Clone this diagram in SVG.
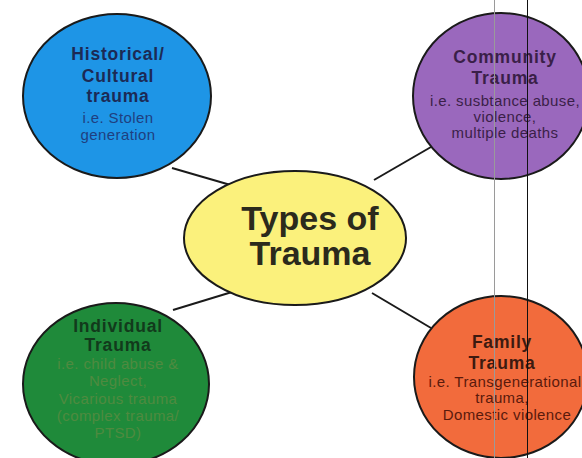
<svg xmlns="http://www.w3.org/2000/svg" width="582" height="458" viewBox="0 0 582 458">
<style>
.node{stroke:#1a1a1a;stroke-width:2}
.t{font-family:"Liberation Sans",Arial,sans-serif;text-anchor:middle}
.b{font-weight:bold;font-size:17.5px;letter-spacing:0.8px}
.s{font-size:15px;letter-spacing:0.4px}
.conn{stroke:#1a1a1a;stroke-width:2;fill:none}
</style>
<rect width="582" height="458" fill="#ffffff"/>
<g id="connectors">
<line class="conn" x1="172" y1="168" x2="234" y2="186"/>
<line class="conn" x1="374" y1="180" x2="431" y2="147"/>
<line class="conn" x1="173" y1="310" x2="232" y2="292"/>
<line class="conn" x1="372" y1="293" x2="431" y2="328"/>
</g>
<g id="historical">
<ellipse class="node" cx="117" cy="96" rx="94" ry="82" fill="#1e95e6"/>
<text class="t b" x="118" y="60" fill="#1c2a55">Historical/</text>
<text class="t b" x="118" y="82" fill="#1c2a55">Cultural</text>
<text class="t b" x="118" y="102" fill="#1c2a55">trauma</text>
<text class="t s" x="118" y="123" fill="#1f3f80">i.e. Stolen</text>
<text class="t s" x="118" y="140" fill="#1f3f80">generation</text>
</g>
<g id="community">
<ellipse class="node" cx="501" cy="96" rx="88" ry="83" fill="#9a68bd"/>
<text class="t b" x="505" y="63" fill="#3a1f48">Community</text>
<text class="t b" x="505" y="84" fill="#3a1f48">Trauma</text>
<text class="t s" x="505" y="106" fill="#3a1f48">i.e. susbtance abuse,</text>
<text class="t s" x="505" y="122" fill="#3a1f48">violence,</text>
<text class="t s" x="505" y="138" fill="#3a1f48">multiple deaths</text>
</g>
<g id="individual">
<ellipse class="node" cx="116" cy="384" rx="93" ry="81" fill="#1f8a3a"/>
<text class="t b" x="118" y="332" fill="#123a1c">Individual</text>
<text class="t b" x="118" y="351" fill="#123a1c">Trauma</text>
<text class="t s" x="118" y="369" fill="#4f8a40">i.e. child abuse &amp;</text>
<text class="t s" x="118" y="386" fill="#4f8a40">Neglect,</text>
<text class="t s" x="118" y="404" fill="#4f8a40">Vicarious trauma</text>
<text class="t s" x="118" y="421" fill="#4f8a40">(complex trauma/</text>
<text class="t s" x="118" y="438" fill="#4f8a40">PTSD)</text>
</g>
<g id="family">
<ellipse class="node" cx="501" cy="377" rx="87" ry="81" fill="#f26b3c"/>
<text class="t b" x="502" y="348" fill="#3d1a10">Family</text>
<text class="t b" x="502" y="369" fill="#3d1a10">Trauma</text>
<text class="t s" x="505" y="387" fill="#5a1a0c" letter-spacing="0.1">i.e. Transgenerational</text>
<text class="t s" x="502" y="403" fill="#5a1a0c">trauma,</text>
<text class="t s" x="507" y="420" fill="#5a1a0c">Domestic violence</text>
</g>
<g id="types">
<ellipse class="node" cx="295" cy="238" rx="111" ry="67" fill="#fbf17c"/>
<text class="t" x="310" y="230" font-size="34" font-weight="bold" fill="#2b2a1c">Types of</text>
<text class="t" x="310" y="265" font-size="34" font-weight="bold" fill="#2b2a1c">Trauma</text>
</g>
<line x1="494.5" y1="0" x2="494.5" y2="458" stroke="#9a9a9a" stroke-width="1"/>
<line x1="527.5" y1="0" x2="527.5" y2="458" stroke="#111111" stroke-width="1"/>
</svg>
